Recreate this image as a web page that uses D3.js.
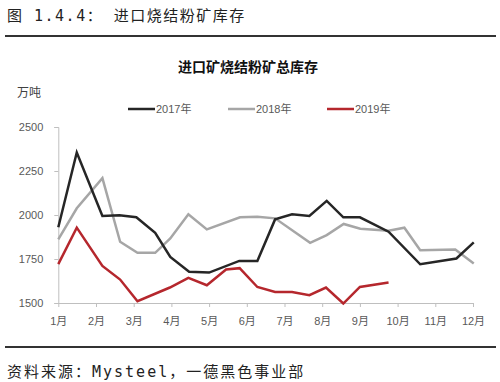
<!DOCTYPE html>
<html>
<head>
<meta charset="utf-8">
<script src="https://cdn.jsdelivr.net/npm/d3@7"></script>
<style>
  body { margin: 0; background: #fff; }
  svg { display: block; }
</style>
</head>
<body>
<div id="chart"></div>
<script>
// month positions (1 = 1月) and stock values (万吨)
const months2017 = [1, 1.49, 2.17, 2.62, 3.07, 3.57, 3.97, 4.47, 5.0, 5.8, 6.28, 6.75, 7.2, 7.66, 8.12, 8.56, 9.0, 9.76, 10.6, 11.56, 12.02];
const values2017 = [1930, 2355, 1994, 1998, 1987, 1899, 1762, 1677, 1673, 1739, 1739, 1975, 2004, 1994, 2080, 1987, 1987, 1905, 1720, 1753, 1844];

const months2018 = [1, 1.49, 2.17, 2.64, 3.1, 3.57, 3.97, 4.45, 4.94, 5.82, 6.28, 6.75, 7.68, 8.12, 8.57, 9.01, 9.76, 10.18, 10.6, 11.53, 12.02];
const values2018 = [1861, 2038, 2209, 1848, 1785, 1785, 1867, 2004, 1918, 1987, 1990, 1981, 1842, 1886, 1949, 1922, 1910, 1928, 1800, 1804, 1725];

const months2019 = [1, 1.49, 2.17, 2.64, 3.1, 3.96, 4.45, 4.94, 5.45, 5.81, 6.28, 6.75, 7.2, 7.66, 8.1, 8.56, 9.0, 9.76];
const values2019 = [1721, 1928, 1711, 1633, 1510, 1588, 1643, 1601, 1690, 1698, 1591, 1563, 1563, 1544, 1588, 1497, 1591, 1616];

const seriesNames = ['2017年', '2018年', '2019年'];
const seriesColors = ['#262626', '#a6a6a6', '#b5272d'];
const monthLabels = ['1月', '2月', '3月', '4月', '5月', '6月', '7月', '8月', '9月', '10月', '11月', '12月'];
const yTicks = [1500, 1750, 2000, 2250, 2500];

const W = 500, H = 382;
const svg = d3.select('#chart').append('svg')
  .attr('width', W)
  .attr('height', H);

const pageFont = '"DejaVu Sans Mono", "Noto Sans CJK SC", sans-serif';
const chartFont = '"Liberation Sans", "Noto Sans CJK SC", sans-serif';

// page heading + rules
svg.append('text')
  .attr('x', 7)
  .attr('y', 21)
  .attr('xml:space', 'preserve')
  .style('font-family', pageFont)
  .style('font-size', '15px')
  .style('letter-spacing', '1.5px')
  .style('fill', '#222')
  .text('图 1.4.4： 进口烧结粉矿库存');

svg.append('line')
  .attr('x1', 5).attr('x2', 496)
  .attr('y1', 36).attr('y2', 36)
  .attr('stroke', '#333').attr('stroke-width', 2);

svg.append('line')
  .attr('x1', 5).attr('x2', 496)
  .attr('y1', 347).attr('y2', 347)
  .attr('stroke', '#333').attr('stroke-width', 2);

svg.append('text')
  .attr('x', 7)
  .attr('y', 377)
  .style('font-family', pageFont)
  .style('font-size', '15px')
  .style('letter-spacing', '2px')
  .style('fill', '#222')
  .text('资料来源：Mysteel，一德黑色事业部');

// scales
const x = d3.scaleLinear().domain([1, 12]).range([58.3, 473]);
const y = d3.scaleLinear().domain([1500, 2500]).range([303, 127]);

// chart title
svg.append('text')
  .attr('x', 248)
  .attr('y', 72)
  .attr('text-anchor', 'middle')
  .style('font-family', '"Noto Sans CJK SC", sans-serif')
  .style('font-size', '14px')
  .style('font-weight', 'bold')
  .style('fill', '#111')
  .text('进口矿烧结粉矿总库存');

// unit
svg.append('text')
  .attr('x', 17)
  .attr('y', 97)
  .style('font-family', '"Noto Sans CJK SC", sans-serif')
  .style('font-size', '12px')
  .style('fill', '#404040')
  .text('万吨');

// legend
const legendX = [128, 228, 327];
const legend = svg.append('g');
seriesNames.forEach((name, i) => {
  legend.append('line')
    .attr('x1', legendX[i]).attr('x2', legendX[i] + 27)
    .attr('y1', 109).attr('y2', 109)
    .attr('stroke', seriesColors[i]).attr('stroke-width', 2.5);
  legend.append('text')
    .attr('x', legendX[i] + 28)
    .attr('y', 113)
    .style('font-family', chartFont)
    .style('font-size', '11px')
    .style('fill', '#595959')
    .text(name);
});

// y axis
const yAxis = svg.append('g')
  .attr('transform', `translate(${x(1)},0)`)
  .call(d3.axisLeft(y).tickValues(yTicks).tickFormat(d3.format('d')).tickSize(4).tickPadding(11));
yAxis.select('.domain').attr('stroke', '#bfbfbf');
yAxis.selectAll('.tick line').attr('stroke', '#bfbfbf');
yAxis.selectAll('.tick text')
  .style('font-family', chartFont)
  .style('font-size', '11px')
  .style('fill', '#595959');

// x axis
const xAxis = svg.append('g')
  .attr('transform', `translate(0,${y(1500)})`)
  .call(d3.axisBottom(x)
    .tickValues(d3.range(1, 13))
    .tickFormat(d => monthLabels[d - 1])
    .tickSize(4)
    .tickSizeOuter(0)
    .tickPadding(10));
xAxis.select('.domain').attr('stroke', '#bfbfbf');
xAxis.selectAll('.tick line').attr('stroke', '#bfbfbf');
xAxis.selectAll('.tick text')
  .style('font-family', chartFont)
  .style('font-size', '11px')
  .style('fill', '#595959');

// lines
const seriesData = [
  months2017.map((m, i) => [m, values2017[i]]),
  months2018.map((m, i) => [m, values2018[i]]),
  months2019.map((m, i) => [m, values2019[i]])
];

const line = d3.line()
  .x(d => x(d[0]))
  .y(d => y(d[1]));

// draw 2018 first so black and red sit on top
[1, 0, 2].forEach(i => {
  svg.append('path')
    .datum(seriesData[i])
    .attr('d', line)
    .attr('fill', 'none')
    .attr('stroke', seriesColors[i])
    .attr('stroke-width', 2.5)
    .attr('stroke-linejoin', 'miter');
});
</script>
</body>
</html>
